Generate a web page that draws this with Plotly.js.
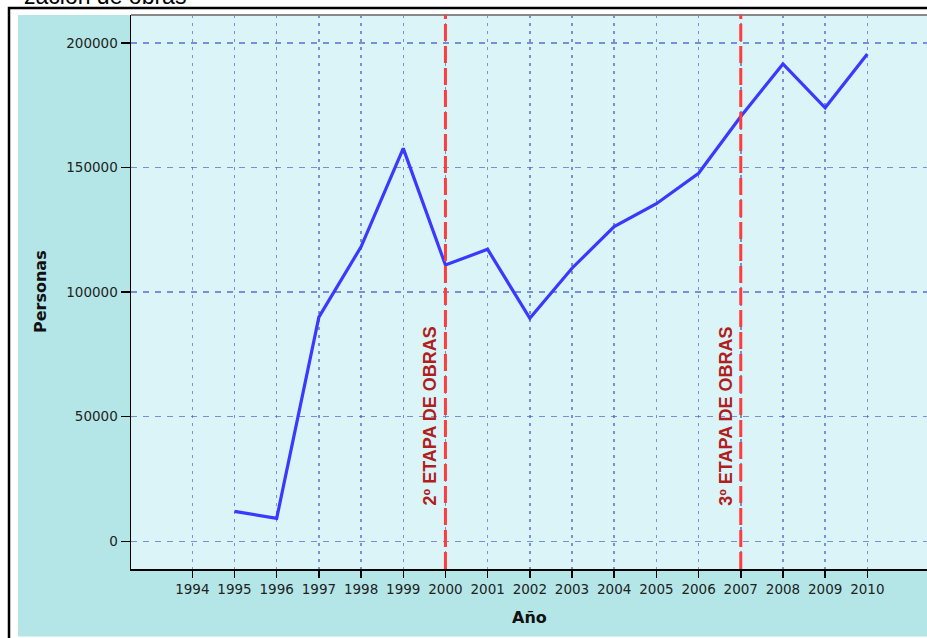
<!DOCTYPE html>
<html>
<head>
<meta charset="utf-8">
<script src="https://cdn.plot.ly/plotly-3.0.1.min.js"></script>
<style>html,body{margin:0;padding:0;background:#fff;}#chart{width:927px;height:638px;}</style>
</head>
<body>
<div id="chart"></div>
<script>
const years = [1995, 1996, 1997, 1998, 1999, 2000, 2001, 2002, 2003, 2004, 2005, 2006, 2007, 2008, 2009, 2010];
const personas = [12000, 9200, 90000, 118200, 157700, 110900, 117200, 89500, 109600, 126300, 135500, 147700, 170500, 191600, 174000, 195600];
const xTicks = [1994, 1995, 1996, 1997, 1998, 1999, 2000, 2001, 2002, 2003, 2004, 2005, 2006, 2007, 2008, 2009, 2010];
const yTicks = [0, 50000, 100000, 150000, 200000];
const etapaYears = [2000, 2007];
const etapaLabels = ["2º ETAPA DE OBRAS", "3º ETAPA DE OBRAS"];
const titleText = "zación de obras";

const W = 927, H = 638, L = 131, R = 0, T = 15, B = 69;
const pw = W - L - R, ph = H - T - B;
const px = p => (p - L) / pw;
const py = p => (H - B - p) / ph;

const font = "Liberation Sans, Arial, sans-serif";
const tickFont = "DejaVu Sans, Verdana, sans-serif";
const gridCol = "rgba(80,100,200,0.7)";

const shapes = [
  {type: "rect", xref: "paper", yref: "paper", x0: px(18), x1: 1.05, y0: py(636.5), y1: 1, fillcolor: "#b4e6e7", line: {width: 0}, layer: "below"},
  {type: "rect", xref: "paper", yref: "paper", x0: 0, x1: 1.05, y0: 0, y1: 1, fillcolor: "#daf4f8", line: {width: 0}, layer: "below"},
  {type: "rect", xref: "paper", yref: "paper", x0: px(9), x1: 1.1, y0: py(660), y1: py(8), fillcolor: "rgba(0,0,0,0)", line: {color: "#000", width: 2.5}},
  {type: "line", xref: "paper", yref: "paper", x0: 0, x1: 1.05, y0: 1, y1: 1, line: {color: "#888", width: 2}}
];
etapaYears.forEach(yr => {
  shapes.push({type: "line", xref: "x", yref: "paper", x0: yr, x1: yr, y0: 0, y1: 1, line: {color: "#ff3b3b", width: 3, dash: "17px,5px"}});
});

const annotations = [
  {xref: "paper", yref: "paper", x: px(188), y: py(-4), xanchor: "right", yanchor: "middle", text: titleText, showarrow: false, font: {family: font, size: 23, color: "#000"}},
  {xref: "paper", yref: "paper", x: 0.5, y: py(617), xanchor: "center", yanchor: "middle", text: "<b>Año</b>", showarrow: false, font: {family: tickFont, size: 16, color: "#111"}},
  {xref: "paper", yref: "paper", x: px(40), y: 0.5, xanchor: "center", yanchor: "middle", textangle: -90, text: "<b>Personas</b>", showarrow: false, font: {family: tickFont, size: 16, color: "#111"}}
];
etapaYears.forEach((yr, i) => {
  annotations.push({xref: "x", yref: "paper", x: yr, xshift: -15, y: py(416), xanchor: "center", yanchor: "middle", textangle: -90, text: "<b>" + etapaLabels[i] + "</b>", showarrow: false, font: {family: font, size: 18, color: "#b01e1e"}});
});

const trace = {
  x: years, y: personas, type: "scatter", mode: "lines",
  line: {color: "#3a3aff", width: 3.2}, hoverinfo: "skip"
};

const layout = {
  width: W, height: H,
  margin: {l: L, r: R, t: T, b: B, pad: 0},
  paper_bgcolor: "rgba(0,0,0,0)",
  plot_bgcolor: "rgba(0,0,0,0)",
  showlegend: false,
  font: {family: tickFont, size: 13, color: "#222"},
  xaxis: {
    range: [1992.547, 2011.414], tickvals: xTicks, ticktext: xTicks.map(String),
    showgrid: true, gridcolor: gridCol, gridwidth: 1.5, griddash: "3px,5px",
    zeroline: false, showline: true, linecolor: "#000", linewidth: 1.5,
    ticks: "outside", ticklen: 7, tickwidth: 1.5, tickcolor: "#000",
    tickfont: {family: tickFont, size: 13.5, color: "#222"}
  },
  yaxis: {
    range: [-11118, 211238], tickvals: yTicks, ticktext: yTicks.map(String),
    showgrid: true, gridcolor: gridCol, gridwidth: 1.5, griddash: "6px,6px",
    zeroline: false, showline: true, linecolor: "#000", linewidth: 1.5,
    ticks: "outside", ticklen: 9, tickwidth: 1.5, tickcolor: "#000",
    tickfont: {family: tickFont, size: 13.5, color: "#222"}
  },
  shapes: shapes,
  annotations: annotations
};

Plotly.newPlot("chart", [trace], layout, {staticPlot: true, displayModeBar: false});
</script>
</body>
</html>
